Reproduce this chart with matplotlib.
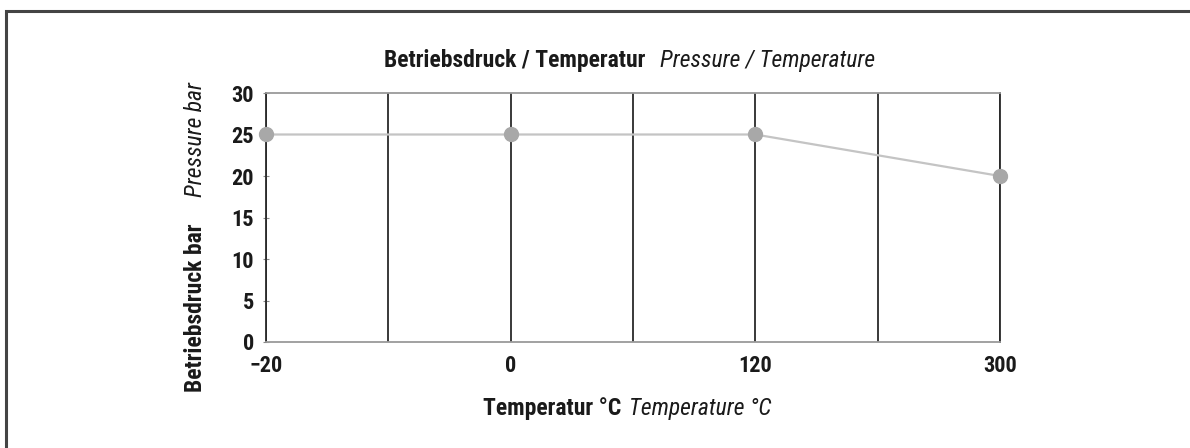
import matplotlib
matplotlib.use("Agg")
import matplotlib.pyplot as plt
from matplotlib.patches import Rectangle
from matplotlib.ticker import MultipleLocator

temps = ["\u221220", "0", "120", "300"]
pressure = [25, 25, 25, 20]
yticks = [0, 5, 10, 15, 20, 25, 30]

FONT = ["Liberation Sans Narrow", "Roboto Condensed", "DejaVu Sans"]
plt.rcParams['font.family'] = FONT
STRETCH = "condensed"
FS = 17
FS_TICK = 16

W, H = 1190, 448
fig = plt.figure(figsize=(W / 100, H / 100), dpi=100)
fig.patch.set_facecolor("white")

# outer frame (extends beyond right and bottom edges)
fig.add_artist(Rectangle((6 / W, -0.1), 1.2, 1 - 11 / H + 0.1,
                         transform=fig.transFigure, fill=False,
                         edgecolor="#444444", linewidth=2.2))

ax = fig.add_axes([266 / W, 1 - 342 / H, (1000 - 266) / W, (342 - 93) / H])
x = list(range(len(temps)))
ax.plot(x, pressure, color="#c4c4c4", linewidth=1.6, zorder=3, clip_on=False)
ax.plot(x, pressure, linestyle="none", marker="o", markersize=10,
        color="#a8a8a8", zorder=4, clip_on=False)

ax.set_xlim(0, len(temps) - 1)
ax.set_ylim(0, 30)
ax.set_xticks(x, temps)
ax.xaxis.set_minor_locator(MultipleLocator(0.5))
ax.set_yticks(yticks)
ax.grid(which="both", axis="x", color="#2a2a2a", linewidth=1.3, zorder=1)

for s in ["top", "bottom"]:
    ax.spines[s].set_color("#9a9a9a")
    ax.spines[s].set_linewidth(1.3)
for s in ["left", "right"]:
    ax.spines[s].set_color("#2a2a2a")
    ax.spines[s].set_linewidth(1.3)

ax.tick_params(axis="x", which="both", length=0, pad=9)
ax.tick_params(axis="y", direction="inout", length=5, color="#888888", pad=6)
for lab in ax.get_xticklabels() + ax.get_yticklabels():
    lab.set_fontweight("bold")
    lab.set_fontsize(FS_TICK)
    lab.set_fontstretch(STRETCH)
    lab.set_color("#1a1a1a")

common = dict(fontsize=FS, fontstretch=STRETCH, color="#1a1a1a")

# title
fig.text(645 / W, 1 - 60 / H, "Betriebsdruck / Temperatur",
         fontweight="bold", ha="right", va="center", **common)
fig.text(660 / W, 1 - 60 / H, "Pressure / Temperature",
         style="italic", ha="left", va="center", **common)

# x label
fig.text(621 / W, 1 - 408 / H, "Temperatur °C",
         fontweight="bold", ha="right", va="center", **common)
fig.text(629 / W, 1 - 408 / H, "Temperature °C",
         style="italic", ha="left", va="center", **common)

# y label
fig.text(195 / W, 1 - 392 / H, "Betriebsdruck bar",
         fontweight="bold", rotation=90, ha="center", va="bottom", **common)
fig.text(195 / W, 1 - 82 / H, "Pressure bar",
         style="italic", rotation=90, ha="center", va="top", **common)

fig.savefig("out.png", dpi=100)
